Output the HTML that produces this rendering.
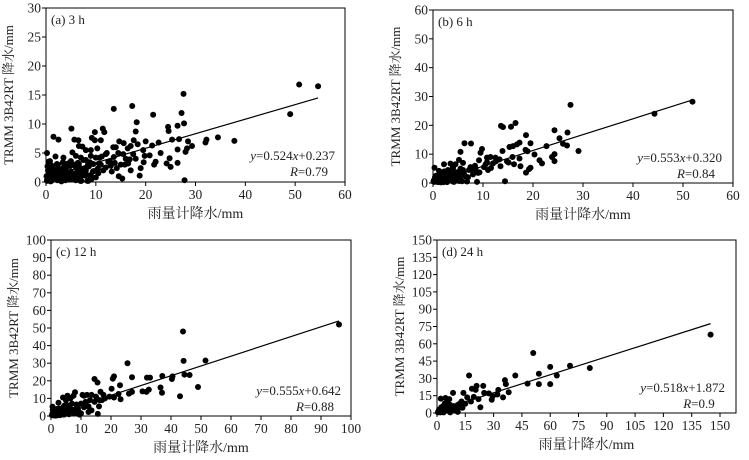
<!DOCTYPE html>
<html><head><meta charset="utf-8"><style>
body{margin:0;background:#fff;}
svg{display:block;font-family:"Liberation Serif","Noto Serif CJK SC",serif;}
</style></head><body>
<svg id="c" width="749" height="460" viewBox="0 0 749 460" xmlns="http://www.w3.org/2000/svg"></svg>
<script>
// ---- data (x = gauge precipitation, y = TRMM precipitation) ----
const aX=[50.8,54.6,49,27.6,27.2,27.7,27.8,37.8,34.5,32,32.2,29.3,28.5,28,28.3,26.4,24.5,24.6,25.3,26.7,26.4,24.2,25,26.4,24.8,22.6,21.5,21.3,20.8,21.7,19.8,19.6,19,18.8,18.4,18.2,18,17.3,17.6,17,16.4,15.6,15.3,14.7,14,14.5,14.6,13.6,13.6,13.2,12.2,11.7,11.4,11,11.2,10.6,10.3,9.8,9.2,9.8,9,8.5,8,7.3,6.6,6.9,6.5,5.7,5.3,5.1,4.4,3.5,3.4,2.5,1.5,1.9,0.8,0.2,0.3,0.5,1,2,3,4,5,6,7,8,9,10,12,2.5,4,6,7.5,8.5,10.5,9.5,11,12.5,15,16,17,18,13,3,1.5,0.5,5,6,7,8,3.5,4.5,2.2,1.2,0.8,0.2,9,10,12,13.5,15.5,16.5,17.5,19.5,22,23,20,
 0.2,0.6,1.1,1.6,2.1,2.6,3.1,3.6,4.1,4.6,5.1,5.6,6.1,6.6,7.1,7.6,8.1,8.6,9.1,9.6,0.4,0.9,1.4,1.9,2.4,2.9,3.4,3.9,4.4,4.9,5.4,5.9,6.4,6.9,7.4,7.9,8.4,8.9,9.4,10.4,0.1,0.7,1.3,1.8,2.3,2.8,3.3,3.8,4.3,4.8,5.3,5.8,6.3,6.8,7.3,7.8,8.3,8.8,11.5,12.8,14.2,15.8,16.8,10.8,13.8];
const aY=[16.8,16.5,11.7,15.2,11.9,10.1,0.3,7.1,7.7,6.8,7.3,6.2,7,5.2,5.8,9.7,9.5,8.8,7.3,7.4,5.6,3.2,2.6,3.3,4.1,6.8,11.6,6.3,4.6,3,4.5,3.4,2.4,1.1,6.5,10.3,8.7,13.1,7.2,6.2,5.8,6.7,0.6,7,6,5,1,12.6,4.3,1.8,5,8.6,9.2,7.2,4.4,3.2,5.8,8.6,7.6,7.2,4.5,3.2,5.5,6.1,6.2,2.4,7.2,7.3,5.1,9.2,3.2,2,3.4,7.3,7.8,4.4,3.6,5,2.7,1,0.4,0.8,1.5,0.5,1.8,2.5,1,2,1.2,0.8,2.5,2.2,2.6,0.3,3.8,0.2,1.5,3.1,3,3.5,3,4,2,4,2.8,0.2,1.8,3.5,3.6,4.5,4.2,3.8,4.2,1.2,3.1,2.8,0.5,0.2,5.5,4.2,4.8,6,4.8,3.2,4.8,5.5,3.5,5,7,
 0.3,1.2,0.2,2.2,0.6,1.8,0.1,2.6,1.1,0.4,2.9,0.8,1.6,3.1,0.2,2.2,1.3,2.7,0.5,1.9,2.0,0.1,1.5,0.7,3.0,1.0,2.4,0.3,1.7,2.8,0.6,1.4,3.3,0.2,2.1,1.1,2.9,0.5,1.8,2.3,1.0,2.5,0.7,1.3,0.3,2.0,0.9,1.5,2.7,0.4,1.2,3.0,0.6,1.9,1.4,2.4,0.2,3.4,2.0,3.6,2.4,3.0,3.9,4.2,3.3];
const bX=[51.9,44.3,27.5,26.9,24.3,25.3,26,26.8,29.1,24.3,23.8,24.3,22.7,21.3,21.8,20.3,19.5,19.5,18.6,18.5,18.9,18.6,17.3,17.3,16.8,16.5,15.6,16,15.9,15.3,14,13.6,14.4,15.1,13.9,13.3,12.6,11.5,10.8,10.5,9.8,9.5,9.2,9.3,8.5,7.6,6.3,5.5,6,5.2,6.5,8,8.8,7.5,4.5,3.5,2.2,1.5,0.3,0.5,1,2,3,4,4.5,5,2.5,3.5,6,7,1.2,0.3,2.8,5.5,4,3,1.8,6.8,8,10.2,12,11,13.5,16.2,17.5,19.2,12.5,14.8,
 0.2,0.6,1.0,1.4,1.8,2.2,2.6,3.0,3.4,3.8,4.2,4.6,5.0,5.4,5.8,6.2,0.4,0.8,1.2,1.6,2.0,2.4,2.8,3.2,3.6,4.0,4.4,4.8,5.2,7.2,8.4,9.0,10.8,11.6,0.1,1.1,2.1,3.1,4.1,5.1];
const bY=[28.2,24,27.1,17.5,18.3,15.5,13.6,13,11.1,10,9,7.6,12.8,7.9,6.8,9.9,13.8,5.3,16.6,11.5,11,3.6,8.5,14,13.4,20.8,19.5,12.8,9,12.5,19.4,19.8,0.6,7.1,11.1,8.2,7.5,9,8.8,6.4,11.8,10.5,7.9,3.7,5,13.7,13.8,10.8,7,8,2.3,3,0.4,5.5,6.5,6.7,6.5,3.5,5.3,2,0.3,1.5,2.8,0.5,3.5,1,4,2,4.5,2,1.2,0.4,0.3,5,5.5,4.5,2.6,0.5,4.2,5.5,6.8,4.5,5.8,6.5,5.8,4.8,8.8,7.5,
 1.0,2.5,0.5,3.0,1.5,4.0,0.8,2.2,3.5,1.2,0.4,2.8,3.8,1.8,0.6,3.2,2.0,1.0,4.2,0.2,2.6,1.4,3.6,0.9,2.4,5.0,1.6,3.0,0.7,4.5,6.0,3.5,7.2,5.2,0.5,2.0,0.3,1.0,2.2,3.0];
const cX=[96,44,51.5,44.2,49,46.2,44.5,43,40.5,40.3,37.1,37,36.5,33,32,32.6,31.8,30.5,27,27,25.5,26,23,23.2,22.5,21,20.6,20.2,21,19.5,18,17.5,16.5,16.2,15.5,14.5,15.6,15,14.5,13.5,13.5,12.5,12,11.5,11,10.5,10,9.5,8.5,8.2,8,7.5,7,6.5,5.5,5,4.8,4.5,4,3.5,2.5,2,1.5,0.5,0.5,1,3,4,6,6.5,7.5,9,10,2,3,5,6,8.5,11,12.5,13,16,17,
 0.3,0.8,1.3,1.8,2.3,2.8,3.3,3.8,4.3,4.8,5.3,5.8,6.3,0.6,1.1,1.6,2.1,2.6,3.1,3.6,4.1,4.6,5.1,5.6,7.8,9.2];
const cY=[52,48,31.5,31.3,16.5,23.3,23.5,11.2,22.5,21,22.7,13.2,16.2,21.8,21.8,15,13.7,14,22,13.7,30,12.7,17.5,9.5,12.5,22.5,21.2,15.5,10.5,11,10,12,13.8,9,19,21,1.2,11,8,12,3.2,5.5,12,8,11.5,12,7,0.8,6.5,2,13.5,11.5,7,10,11.5,9,2,6,10.5,3.5,7.5,1.5,3,5.3,1.5,0.3,0.5,2.2,1,4,3,4.5,1.5,4,2,4.5,2.5,4.2,5,2.3,9,5.5,9,
 0.5,2.0,1.0,3.0,0.4,2.5,1.5,3.5,0.8,2.8,1.8,4.0,3.2,3.5,1.2,0.2,2.2,4.2,0.6,2.0,5.0,1.0,3.0,6.0,1.5,2.5];
const dX=[145,81,70.5,60,63.5,60,54,54,51,48,41.5,38,36.5,36,35,32.5,32,29.5,29,27.5,25,24.5,23,22,21,20.5,19.5,18.5,18,17,16,14,13.5,13,12,11,10,9.5,8.5,8,7,6.5,5.5,5,4.5,4,3,2,2.5,1.5,0.5,1,3.5,6,7,9,11,12.5,15,3,5,
 0.8,1.8,2.8,3.8,4.8,5.8,6.8,7.8,8.8,1.3,2.3,3.3,4.3,5.3,6.3,10.5];
const dY=[68,39,41,40,32.5,25,34,25,52,25.5,32.5,18,25,28.5,13.5,20,16,14.5,11.5,17,17.5,23.5,5,12,23.5,20,14,21,10,32.5,13.5,17.5,4.5,10,8,7,2,3.5,17.5,5,7,12,11,4,13,8,3,12.5,2,1,0.5,2.5,0.5,2.5,0.5,6,1,5,8,5.5,7,
 1.5,0.5,4.0,2.0,6.0,3.5,1.0,2.5,4.5,3.0,5.0,1.2,2.0,8.5,4.0,3.5];
const aTicksX=[0,10,20,30,40,50,60], aTicksY=[0,5,10,15,20,25,30];
const bTicksX=[0,10,20,30,40,50,60], bTicksY=[0,10,20,30,40,50,60];
const cTicksX=[0,10,20,30,40,50,60,70,80,90,100], cTicksY=[0,10,20,30,40,50,60,70,80,90,100];
const dTicksX=[0,15,30,45,60,75,90,105,120,135,150], dTicksY=[0,15,30,45,60,75,90,105,120,135,150];
const slopes=[0.524,0.553,0.555,0.518], intercepts=[0.237,0.320,0.642,1.872];
const rVals=["0.79","0.84","0.88","0.9"];
// fitted line as drawn in the figure (start y at x=0, end y at max x)
const lineStartY=[0.8,0.32,0.64,1.87];
const lineEndY=[14.5,28.8,54,77.5];

const svg=document.getElementById('c');
const NS='http://www.w3.org/2000/svg';
function mk(tag,attrs,parent){const e=document.createElementNS(NS,tag);for(const k in attrs)e.setAttribute(k,attrs[k]);(parent||svg).appendChild(e);return e;}

const panels=[
 {id:'a',label:'(a) 3 h',xs:aX,ys:aY,tx:aTicksX,ty:aTicksY,L:46,R:345,T:8,B:182,xmax:60,ymax:30,eqx:335,eqy:160},
 {id:'b',label:'(b) 6 h',xs:bX,ys:bY,tx:bTicksX,ty:bTicksY,L:433,R:733,T:10,B:183,xmax:60,ymax:60,eqx:722,eqy:162},
 {id:'c',label:'(c) 12 h',xs:cX,ys:cY,tx:cTicksX,ty:cTicksY,L:51,R:351,T:240,B:416,xmax:100,ymax:100,eqx:341,eqy:395},
 {id:'d',label:'(d) 24 h',xs:dX,ys:dY,tx:dTicksX,ty:dTicksY,L:437,R:736,T:240,B:413,xmax:150,ymax:150,eqx:725,eqy:392}
];
panels.forEach((p,i)=>{
 const xEnd=(p.id==='d')?(p.L+283):p.R;
 const sx=v=>p.L+(v/p.xmax)*(xEnd-p.L);
 const sy=v=>p.B-(v/p.ymax)*(p.B-p.T);
 const g=mk('g',{});
 
 
 const box=mk('rect',{x:p.L,y:p.T,width:p.R-p.L,height:p.B-p.T,fill:'none',stroke:'#000','stroke-width':1},g);
 
 
 p.tx.forEach(t=>{
  const x=sx(t);
  mk('line',{x1:x,y1:p.B,x2:x,y2:p.B+4,stroke:'#000'},g);
  const tl=mk('text',{x:x,y:p.B+17,'font-size':13.5,'text-anchor':'middle',fill:'#222'},g);
  tl.textContent=t;
  
  
 });
 p.ty.forEach(t=>{
  const y=sy(t);
  mk('line',{x1:p.L-4,y1:y,x2:p.L,y2:y,stroke:'#000'},g);
  const tl=mk('text',{x:p.L-5,y:y+4.5,'font-size':13.5,'text-anchor':'end',fill:'#222'},g);
  tl.textContent=t;
  
  
 });
 const lab=mk('text',{x:p.L+5,y:p.T+16,'font-size':13,fill:'#222'},g);
 lab.textContent=p.label;
 
 
 const xt=mk('text',{x:(p.L+p.R)/2,y:p.B+36,'font-size':14,'text-anchor':'middle',fill:'#222'},g);
 xt.textContent='雨量计降水/mm';
 
 
 const yx=p.L-33, yy=(p.T+p.B)/2;
 const yt=mk('text',{x:yx,y:yy,'font-size':13,'text-anchor':'middle',fill:'#222',transform:`rotate(-90 ${yx} ${yy})`},g);
 yt.textContent='TRMM 3B42RT 降水/mm';
 
 
 p.xs.forEach((v,k)=>{
  const c=mk('circle',{cx:sx(v),cy:sy(p.ys[k]),r:3,fill:'#000'},g);
  
  
 });
 const xm=Math.max(...p.xs);
 const ln=mk('line',{x1:sx(0),y1:sy(lineStartY[i]),x2:sx(xm),y2:sy(lineEndY[i]),stroke:'#000','stroke-width':1.2},g);
 
 
 const eq=mk('text',{x:p.eqx,y:p.eqy,'font-size':13,'text-anchor':'end',fill:'#222'},g);
 eq.innerHTML=`<tspan font-style="italic">y</tspan>=${slopes[i].toFixed(3)}<tspan font-style="italic">x</tspan>+${intercepts[i].toFixed(3)}`;
 
 
 const rt=mk('text',{x:p.eqx-26,y:p.eqy+16,'font-size':13,'text-anchor':'middle',fill:'#222'},g);
 rt.innerHTML=`<tspan font-style="italic">R</tspan>=${rVals[i]}`;
 
 
});
</script>
</body></html>
